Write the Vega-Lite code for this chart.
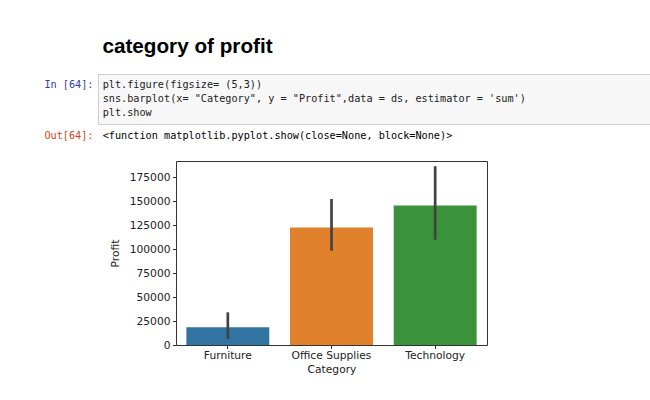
{
  "$schema": "https://vega.github.io/schema/vega-lite/v6.json",
  "background": "white",
  "padding": {"left": 43, "top": 35, "right": 0, "bottom": 0},
  "title": {"text": "category of profit", "anchor": "start", "frame": "bounds", "dx": 59, "offset": 16, "font": "Liberation Sans", "fontSize": 20.7, "fontWeight": "bold", "color": "#000000"},
  "spacing": 0,
  "config": {"view": {"stroke": null}, "font": "DejaVu Sans"},
  "vconcat": [
    {
      "width": 553,
      "height": 50,
      "view": {"fill": "#f7f7f7", "stroke": "#cfcfcf"},
      "data": {"values": [
        {"line": "1", "code": "plt.figure(figsize= (5,3))"},
        {"line": "2", "code": "sns.barplot(x= \"Category\", y = \"Profit\",data = ds, estimator = 'sum')"},
        {"line": "3", "code": "plt.show"}
      ]},
      "mark": {"type": "text", "align": "left", "baseline": "middle", "font": "DejaVu Sans Mono", "fontSize": 10.2, "color": "#212121"},
      "encoding": {
        "y": {"field": "line", "type": "ordinal", "scale": {"type": "band", "paddingInner": 0, "paddingOuter": 0.33},
              "axis": {"title": null, "domain": false, "ticks": false, "labelExpr": "datum.value == '1' ? 'In [64]:' : ''", "labelFont": "DejaVu Sans Mono", "labelFontSize": 10.2, "labelColor": "#303F9F", "labelPadding": 5}},
        "x": {"datum": 0, "type": "quantitative", "scale": {"domain": [-0.85, 100]}, "axis": null},
        "text": {"field": "code"}
      }
    },
    {
      "width": 553,
      "height": 35,
      "data": {"values": [
        {"line": "out", "text": "<function matplotlib.pyplot.show(close=None, block=None)>"}
      ]},
      "mark": {"type": "text", "align": "left", "baseline": "middle", "font": "DejaVu Sans Mono", "fontSize": 10.2, "color": "#000000"},
      "encoding": {
        "y": {"field": "line", "type": "nominal", "scale": {"type": "band", "paddingInner": 0, "paddingOuter": 0.3, "align": 0},
              "axis": {"title": null, "domain": false, "ticks": false, "labelExpr": "'Out[64]:'", "labelFont": "DejaVu Sans Mono", "labelFontSize": 10.2, "labelColor": "#D84315", "labelPadding": 5}},
        "x": {"datum": 0, "type": "quantitative", "scale": {"domain": [-0.85, 100]}, "axis": null},
        "text": {"field": "text"}
      }
    },
    {
      "spacing": 9,
      "hconcat": [
        {
          "width": 1,
          "height": 1,
          "data": {"values": []},
          "mark": "point"
        },
        {
          "width": 311,
          "height": 184,
          "view": {"stroke": "#333333", "strokeWidth": 1},
          "data": {"values": [
            {"Category": "Furniture", "Profit": 18451.27, "lo": 6260, "hi": 34100},
            {"Category": "Office Supplies", "Profit": 122490.8, "lo": 98400, "hi": 152350},
            {"Category": "Technology", "Profit": 145454.95, "lo": 109900, "hi": 186500}
          ]},
          "encoding": {
            "x": {"field": "Category", "type": "nominal", "scale": {"paddingInner": 0.2, "paddingOuter": 0.1},
                  "axis": {"title": "Category", "labelAngle": 0, "domain": false, "tickSize": 3.5, "tickColor": "#333333", "labelFont": "DejaVu Sans", "labelFontSize": 10.7, "labelColor": "#222222", "labelPadding": 2, "titleFont": "DejaVu Sans", "titleFontSize": 10.7, "titleFontWeight": "normal", "titleColor": "#222222", "titlePadding": 4}}
          },
          "layer": [
            {
              "mark": {"type": "bar"},
              "encoding": {
                "y": {"field": "Profit", "type": "quantitative", "scale": {"domain": [0, 192000], "nice": false},
                      "axis": {"title": "Profit", "values": [0, 25000, 50000, 75000, 100000, 125000, 150000, 175000], "format": "d", "grid": false, "domain": false, "tickSize": 3.5, "tickColor": "#333333", "labelFlush": false, "labelOverlap": false, "labelFont": "DejaVu Sans", "labelFontSize": 10.7, "labelColor": "#222222", "labelPadding": 2.5, "titleFont": "DejaVu Sans", "titleFontSize": 10.7, "titleFontWeight": "normal", "titleColor": "#222222", "titlePadding": 9}},
                "color": {"field": "Category", "type": "nominal", "scale": {"range": ["#3274A1", "#E1812C", "#3A923A"]}, "legend": null}
              }
            },
            {
              "mark": {"type": "rule", "strokeWidth": 2.7, "color": "#424242"},
              "encoding": {
                "y": {"field": "lo", "type": "quantitative", "scale": {"domain": [0, 192000], "nice": false},
                      "axis": {"title": "Profit", "values": [0, 25000, 50000, 75000, 100000, 125000, 150000, 175000], "format": "d", "grid": false, "domain": false, "tickSize": 3.5, "tickColor": "#333333", "labelFlush": false, "labelOverlap": false, "labelFont": "DejaVu Sans", "labelFontSize": 10.7, "labelColor": "#222222", "labelPadding": 2.5, "titleFont": "DejaVu Sans", "titleFontSize": 10.7, "titleFontWeight": "normal", "titleColor": "#222222", "titlePadding": 9}},
                "y2": {"field": "hi"}
              }
            }
          ]
        }
      ]
    }
  ]
}
